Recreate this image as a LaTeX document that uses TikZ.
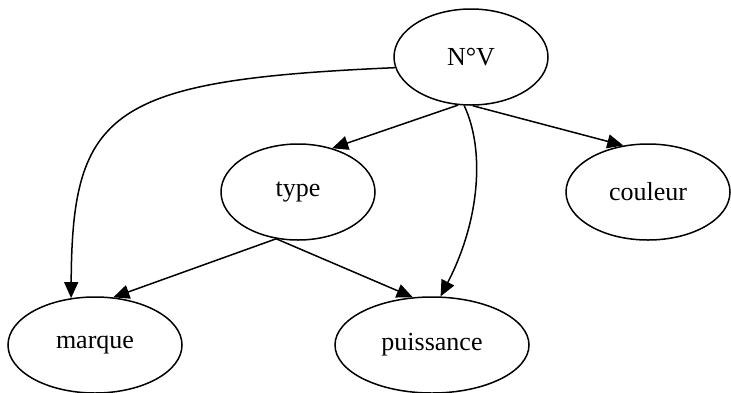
\documentclass[tikz,border=0pt]{standalone}
\usepackage{fontspec}
\setmainfont{Liberation Serif}
\usetikzlibrary{arrows.meta,shapes.geometric}
\tikzset{
    >={Triangle[length=16pt,width=14pt]},
    dep/.style={
        attr/.append style={draw,line width=1.5pt,ellipse,inner sep=0pt,minimum height=96pt,font=\fontsize{26}{30}\selectfont},
        link/.append style={draw,line width=1.5pt,->},
        every edge/.append style={draw,line width=1.5pt}
    }
}
\begin{document}
\begin{tikzpicture}[dep,x=1pt,y=-1pt]
    \useasboundingbox (0,0) rectangle (731,392);
    \node[attr,minimum width=154pt] (nv) at (471,57) {N°V};
    \node[attr,minimum width=154pt] (type) at (298,192) {type};
    \node[attr,minimum width=164pt] (couleur) at (648,192) {couleur};
    \node[attr,minimum width=174pt] (marque) at (95,345) {marque};
    \node[attr,minimum width=194pt] (puissance) at (432,345) {puissance};
    \draw[link] (nv.188) .. controls (110,80) and (72,110) .. (marque.117);
    \path (nv.255) edge[link] (type.52);
    \path (nv.272) edge[link] (couleur.118);
    \draw[link] (nv.262) .. controls (485,150) and (480,220) .. (puissance.80);
    \path (type.245) edge[link] (marque.69);
    \path (type.245) edge[link] (puissance.112);
\end{tikzpicture}
\end{document}
